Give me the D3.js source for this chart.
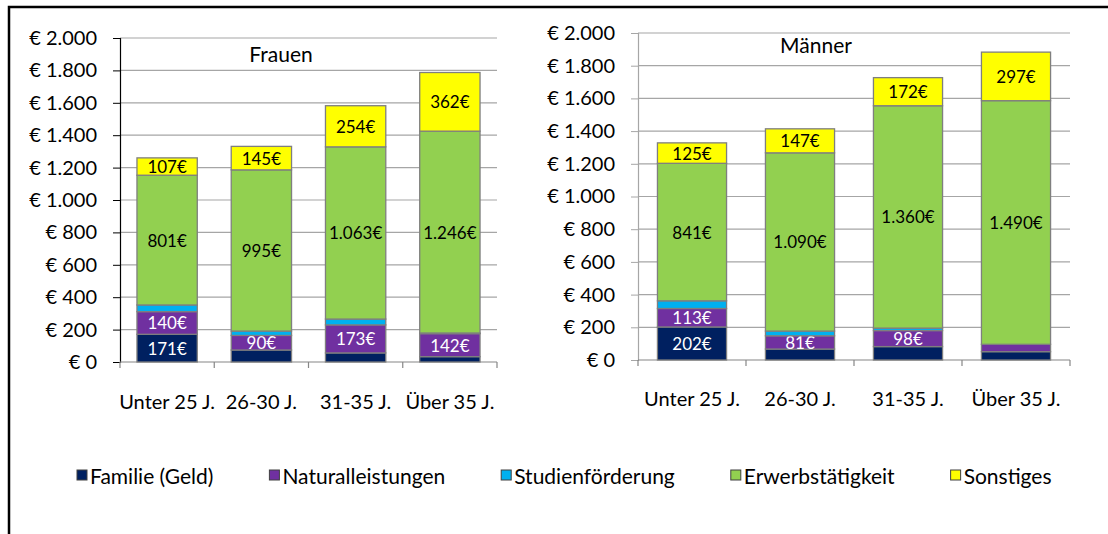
<!DOCTYPE html>
<html>
<head>
<meta charset="utf-8">
<script src="https://cdn.jsdelivr.net/npm/d3@7"></script>
<style>
  body { margin: 0; background: #fff; }
  svg { display: block; font-family: Lato, "Open Sans", sans-serif; }
</style>
</head>
<body>
<div id="plot"></div>
<script>

// data

  var categories = ["Unter 25 J.", "26-30 J.", "31-35 J.", "Über 35 J."];
  var seriesNames = ["Familie (Geld)", "Naturalleistungen", "Studienförderung", "Erwerbstätigkeit", "Sonstiges"];
  var colors = ["#002060", "#7030A0", "#00B0F0", "#92D050", "#FFFF00"];
  var yTicks = [0, 200, 400, 600, 800, 1000, 1200, 1400, 1600, 1800, 2000];

  var frauenFamilie = [171, 74, 56, 33];
  var frauenNatural = [140, 90, 173, 142];
  var frauenStudien = [41, 27, 36, 4];
  var frauenErwerb = [801, 995, 1063, 1246];
  var frauenSonstiges = [107, 145, 254, 362];
  // which segments carry a value label (per series)
  var frauenLabeled = [[1, 0, 0, 0], [1, 1, 1, 1], [0, 0, 0, 0], [1, 1, 1, 1], [1, 1, 1, 1]];

  var maennerFamilie = [202, 67, 82, 51];
  var maennerNatural = [113, 81, 98, 45];
  var maennerStudien = [47, 29, 15, 0];
  var maennerErwerb = [841, 1090, 1360, 1490];
  var maennerSonstiges = [125, 147, 172, 297];
  var maennerLabeled = [[1, 0, 0, 0], [1, 1, 1, 0], [0, 0, 0, 0], [1, 1, 1, 1], [1, 1, 1, 1]];

  var w = 1108;
  var h = 534;

  var de = d3.formatLocale({decimal: ",", thousands: ".", grouping: [3], currency: ["€", ""]});
  var fmt = de.format(",");

  var svg = d3.select("div#plot")
    .append("svg")
      .attr("width", w)
      .attr("height", h);

// outer frame

  svg.append("rect")
      .attr("x", 9)
      .attr("y", 7)
      .attr("width", w + 20)
      .attr("height", h + 20)
      .attr("fill", "#fff")
      .attr("stroke", "#000")
      .attr("stroke-width", 2.5);

// one chart

  function drawChart(opt) {
    var xScale = d3.scaleBand()
        .domain(categories)
        .range([opt.left, opt.right])
        .paddingInner(0.36)
        .paddingOuter(0.18);

    var yScale = d3.scaleLinear()
        .domain([0, 2000])
        .range([opt.bottom, opt.top]);

    var g = svg.append("g");

    // gridlines
    g.append("g")
      .selectAll("line")
      .data(yTicks.slice(1))
      .enter().append("line")
        .attr("x1", opt.left)
        .attr("x2", opt.right)
        .attr("y1", d => yScale(d))
        .attr("y2", d => yScale(d))
        .attr("stroke", "#a6a6a6")
        .attr("stroke-width", 1.2);

    // y axis
    var yAxis = d3.axisLeft(yScale)
        .tickValues(yTicks)
        .tickSize(7)
        .tickPadding(opt.tickPad)
        .tickFormat(d => "€ " + fmt(d));

    var ya = g.append("g")
        .attr("transform", `translate(${opt.left},0)`)
        .call(yAxis);
    ya.select(".domain").attr("stroke", opt.yAxisColor).attr("stroke-width", 1.2);
    ya.selectAll(".tick line").attr("stroke", opt.yAxisColor);
    ya.selectAll(".tick text")
        .attr("fill", "#000")
        .style("font-size", "20px")
        .style("font-family", "Lato, sans-serif");

    // x axis line and boundary ticks
    var step = xScale.step();
    var bounds = d3.range(categories.length + 1).map(i => opt.left + i * step);

    g.append("line")
        .attr("x1", opt.left)
        .attr("x2", opt.right)
        .attr("y1", yScale(0))
        .attr("y2", yScale(0))
        .attr("stroke", "#868686")
        .attr("stroke-width", 1.2);

    g.append("g")
      .selectAll("line")
      .data(bounds)
      .enter().append("line")
        .attr("x1", d => d)
        .attr("x2", d => d)
        .attr("y1", yScale(0))
        .attr("y2", yScale(0) + 6)
        .attr("stroke", "#868686")
        .attr("stroke-width", 1.2);

    g.append("g")
      .selectAll("text")
      .data(categories)
      .enter().append("text")
        .attr("x", d => xScale(d) + xScale.bandwidth() / 2)
        .attr("y", opt.catY)
        .attr("text-anchor", "middle")
        .attr("dominant-baseline", "central")
        .style("font-size", "20px")
        .text(d => d);

    // stacked bars
    var rows = categories.map((c, i) => {
      var r = {cat: c};
      opt.series.forEach((s, k) => { r[k] = s[i]; });
      return r;
    });
    var stack = d3.stack().keys(d3.range(opt.series.length))(rows);

    var layers = g.append("g")
      .selectAll("g")
      .data(stack)
      .enter().append("g")
        .attr("fill", (d, k) => colors[k]);

    layers.selectAll("rect")
      .data(d => d)
      .enter().append("rect")
        .filter(d => d[1] > d[0])
        .attr("x", d => xScale(d.data.cat))
        .attr("y", d => yScale(d[1]))
        .attr("width", xScale.bandwidth())
        .attr("height", d => yScale(d[0]) - yScale(d[1]))
        .attr("stroke", "#7f7f7f")
        .attr("stroke-width", 1.3);

    // value labels
    layers.each(function(layer, k) {
      d3.select(this).selectAll("text")
        .data(layer.filter((d, i) => opt.labeled[k][i]))
        .enter().append("text")
          .attr("x", d => xScale(d.data.cat) + xScale.bandwidth() / 2)
          .attr("y", d => yScale((d[0] + d[1]) / 2))
          .attr("text-anchor", "middle")
          .attr("dominant-baseline", "central")
          .attr("fill", k < 2 ? "#fff" : "#000")
          .style("font-size", "17px")
          .text(d => fmt(d[1] - d[0]) + "€");
    });

    // title
    g.append("text")
        .attr("x", opt.titleX)
        .attr("y", opt.titleY)
        .attr("text-anchor", "middle")
        .attr("dominant-baseline", "central")
        .style("font-size", "21px")
        .text(opt.title);
  }

  drawChart({
    left: 120, right: 497, top: 38, bottom: 362,
    series: [frauenFamilie, frauenNatural, frauenStudien, frauenErwerb, frauenSonstiges],
    labeled: frauenLabeled,
    yAxisColor: "#000",
    tickPad: 16,
    catY: 401,
    title: "Frauen", titleX: 281, titleY: 53
  });

  drawChart({
    left: 638, right: 1070, top: 33, bottom: 360,
    series: [maennerFamilie, maennerNatural, maennerStudien, maennerErwerb, maennerSonstiges],
    labeled: maennerLabeled,
    yAxisColor: "#a6a6a6",
    tickPad: 16,
    catY: 398,
    title: "Männer", titleX: 816, titleY: 44
  });

// legend

  var legend = svg.append("g");
  var lx = 77;
  seriesNames.forEach((name, k) => {
    legend.append("rect")
      .attr("x", lx)
      .attr("y", 470)
      .attr("width", 10)
      .attr("height", 10)
      .attr("fill", colors[k])
      .attr("stroke", "#404040")
      .attr("stroke-width", 1);
    var t = legend.append("text")
      .attr("x", lx + 13)
      .attr("y", 475)
      .attr("dominant-baseline", "central")
      .style("font-size", "21px")
      .text(name);
    lx += 13 + t.node().getComputedTextLength() + 56;
  });

</script>
</body>
</html>
